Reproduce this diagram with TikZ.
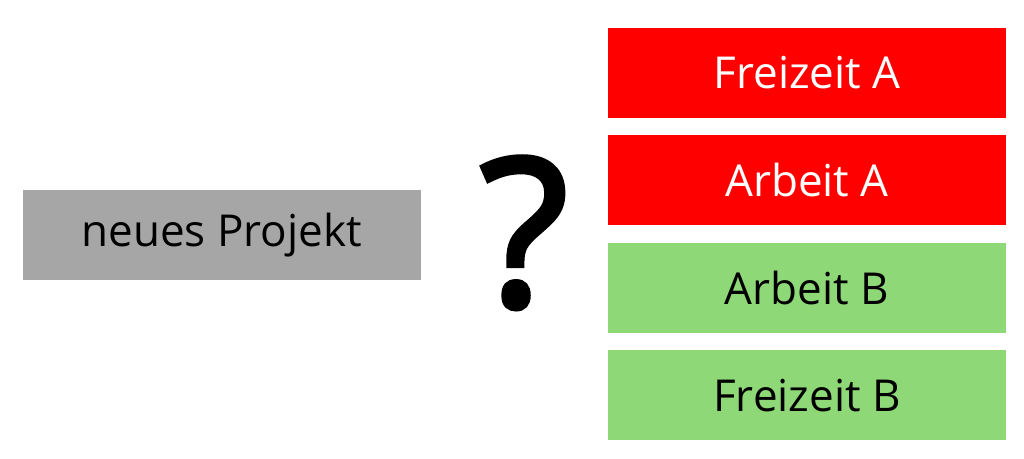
\documentclass[tikz,border=0pt]{standalone}
\usepackage{fontspec}
\setmainfont{Open Sans}
\newfontfamily\fragefont[FakeBold=2.5]{Open Sans}
\usetikzlibrary{positioning}
\definecolor{boxred}{HTML}{FF0000}
\definecolor{boxgreen}{HTML}{8FD877}
\definecolor{boxgray}{HTML}{A6A6A6}
\tikzset{
  optbox/.style={minimum width=398pt, minimum height=90pt, inner sep=0pt, font=\fontsize{44}{52}\selectfont},
  redbox/.style={optbox, fill=boxred, text=white},
  greenbox/.style={optbox, fill=boxgreen, text=black},
  projbox/.style={optbox, fill=boxgray, text=black}
}
\begin{document}
\begin{tikzpicture}[x=1pt,y=-1pt]
\useasboundingbox (0,0) rectangle (1024,458);
\node [projbox] (proj) at (221.5,235) {neues Projekt};
\node [anchor=base, font=\fragefont\fontsize{206}{224}\selectfont] (frage) at (524,306) {?};
\node [redbox] (fa) at (807,73) {Freizeit A};
\node [redbox, below=17pt of fa] (aa) {Arbeit A};
\node [greenbox, below=17pt of aa] (ab) {Arbeit B};
\node [greenbox, below=17pt of ab] (fb) {Freizeit B};
\end{tikzpicture}
\end{document}
